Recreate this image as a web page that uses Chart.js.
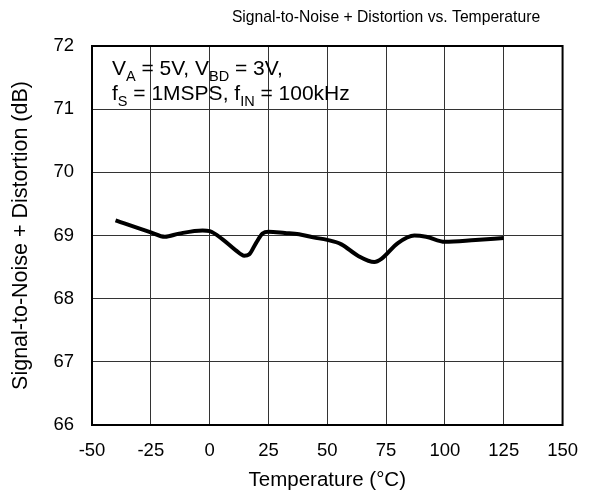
<!DOCTYPE html>
<html lang="en">
<head>
    <meta charset="UTF-8">
    <title>Signal-to-Noise + Distortion vs. Temperature</title>
    <script src="https://cdn.jsdelivr.net/npm/chart.js"></script>
    <style>
        html, body { margin: 0; padding: 0; background: #fff; }
        #wrap { width: 593px; height: 498px; }
    </style>
</head>
<body>
    <div id="wrap"><canvas id="chartSinad"></canvas></div>

    <script>
        // Temperature sweep (°C) and measured SINAD (dB)
        const temperatures = [-40, -25, -19, -13, -3, 0, 5.5, 11, 14.7, 16.8, 19.7, 22.5, 25, 32, 38, 44, 50, 56, 63, 70, 73, 80, 87, 92, 100, 113, 125];
        const sinadValues = [69.24, 69.05, 68.98, 69.03, 69.08, 69.07, 68.94, 68.77, 68.68, 68.70, 68.88, 69.03, 69.06, 69.04, 69.02, 68.97, 68.93, 68.86, 68.68, 68.58, 68.63, 68.88, 69.0, 68.98, 68.9, 68.93, 68.96];

        const xTicks = [-50, -25, 0, 25, 50, 75, 100, 125, 150];
        const yTicks = [66, 67, 68, 69, 70, 71, 72];

        const chartTitle = 'Signal-to-Noise + Distortion vs. Temperature';
        const fontFamily = '"Liberation Sans", Arial, sans-serif';

        // title, frame on all four sides, and the test conditions text
        const framePlugin = {
            id: 'frame',
            afterDraw(chart) {
                const { ctx, chartArea: a } = chart;
                ctx.save();
                ctx.strokeStyle = '#000';
                ctx.lineWidth = 2;
                ctx.strokeRect(a.left, a.top, a.right - a.left, a.bottom - a.top);

                ctx.fillStyle = '#000';
                ctx.textBaseline = 'alphabetic';

                ctx.font = '15.7px ' + fontFamily;
                ctx.textAlign = 'center';
                ctx.fillText(chartTitle, 386, 22);

                ctx.textAlign = 'left';
                const big = '21px ' + fontFamily;
                const small = '14.5px ' + fontFamily;
                function writeLine(parts, x, y) {
                    parts.forEach(([txt, sub]) => {
                        ctx.font = sub ? small : big;
                        ctx.fillText(txt, x, sub ? y + 6 : y);
                        x += ctx.measureText(txt).width;
                    });
                }
                writeLine([['V', 0], ['A', 1], [' = 5V, V', 0], ['BD', 1], [' = 3V,', 0]], a.left + 20, a.top + 29);
                writeLine([['f', 0], ['S', 1], [' = 1MSPS, f', 0], ['IN', 1], [' = 100kHz', 0]], a.left + 20, a.top + 54);
                ctx.restore();
            }
        };

        new Chart(document.getElementById('chartSinad'), {
            type: 'line',
            data: {
                datasets: [{
                    data: temperatures.map((t, i) => ({ x: t, y: sinadValues[i] })),
                    borderColor: '#000',
                    borderWidth: 4,
                    pointRadius: 0,
                    cubicInterpolationMode: 'monotone',
                    fill: false
                }]
            },
            options: {
                responsive: true,
                maintainAspectRatio: false,
                animation: false,
                layout: { padding: { left: 0, right: 28, top: 46, bottom: 0 } },
                plugins: {
                    legend: { display: false },
                    tooltip: { enabled: false },
                    title: { display: false }
                },
                scales: {
                    x: {
                        type: 'linear',
                        min: -50,
                        max: 150,
                        afterBuildTicks(scale) { scale.ticks = xTicks.map(v => ({ value: v })); },
                        afterFit(scale) { scale.height = 73; },
                        grid: { color: '#333', lineWidth: 1, drawTicks: false },
                        border: { color: '#000', width: 2 },
                        ticks: {
                            color: '#000',
                            padding: 15,
                            maxRotation: 0,
                            font: { family: fontFamily, size: 18.5 }
                        },
                        title: {
                            display: true,
                            text: 'Temperature (°C)',
                            color: '#000',
                            font: { family: fontFamily, size: 20.5 },
                            padding: { top: 0, bottom: 5 }
                        }
                    },
                    y: {
                        min: 66,
                        max: 72,
                        afterBuildTicks(scale) { scale.ticks = yTicks.map(v => ({ value: v })); },
                        afterFit(scale) { scale.width = 92; },
                        grid: { color: '#333', lineWidth: 1, drawTicks: false },
                        border: { color: '#000', width: 2 },
                        ticks: {
                            color: '#000',
                            padding: 18,
                            font: { family: fontFamily, size: 18.5 }
                        },
                        title: {
                            display: true,
                            text: 'Signal-to-Noise + Distortion (dB)',
                            color: '#000',
                            font: { family: fontFamily, size: 21.5 },
                            padding: { top: 8, bottom: 0 }
                        }
                    }
                }
            },
            plugins: [framePlugin]
        });
    </script>
</body>
</html>
